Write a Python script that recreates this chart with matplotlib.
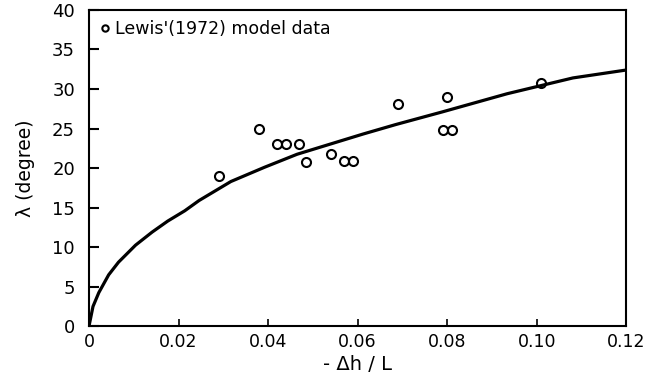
import matplotlib.pyplot as plt

# Datos del modelo de Lewis (1972)
dh_L = [0.029, 0.038, 0.042, 0.044, 0.047, 0.0485, 0.054, 0.057, 0.059,
        0.069, 0.080, 0.079, 0.081, 0.101]
lamda = [19.0, 25.0, 23.0, 23.0, 23.0, 20.8, 21.8, 20.9, 20.9,
         28.1, 29.0, 24.8, 24.8, 30.7]

# Curva ajustada (leida punto a punto)
curva_x = [0.0, 0.0009, 0.0022, 0.0044, 0.0066, 0.0104, 0.0141, 0.0176,
           0.0214, 0.0246, 0.0317, 0.0392, 0.0465, 0.0537, 0.0612, 0.0685,
           0.0789, 0.0934, 0.1081, 0.120]
curva_y = [0.0, 2.5, 4.25, 6.5, 8.1, 10.25, 11.9, 13.3,
           14.6, 15.9, 18.3, 20.1, 21.75, 23.0, 24.3, 25.5,
           27.1, 29.4, 31.4, 32.4]

xticks = [0, 0.02, 0.04, 0.06, 0.08, 0.10, 0.12]
xlabels = ['0', '0.02', '0.04', '0.06', '0.08', '0.10', '0.12']
yticks = [0, 5, 10, 15, 20, 25, 30, 35, 40]

fig = plt.figure(figsize=(6.48, 3.82), dpi=100)
ax = fig.add_axes([0.1373, 0.146, 0.829, 0.828])

ax.plot(curva_x, curva_y, color='black', lw=2.3, solid_capstyle='round',
        solid_joinstyle='round')
ax.plot(dh_L, lamda, 'o', mfc='none', mec='black', ms=6.5, mew=1.5,
        label="Lewis'(1972) model data")

ax.set_xlim(0, 0.12)
ax.set_ylim(0, 40)
ax.set_xticks(xticks)
ax.set_xticklabels(xlabels)
ax.set_yticks(yticks)

for s in ax.spines.values():
    s.set_linewidth(1.5)

ax.tick_params(axis='y', direction='in', length=7, width=1.5, pad=10,
               labelsize=13)
ax.tick_params(axis='x', direction='in', length=5, width=1.2, pad=5,
               labelsize=12.5)

ax.set_xlabel('- Δh / L', fontsize=14, labelpad=3)
ax.set_ylabel('λ (degree)', fontsize=13.5, labelpad=12)

ax.legend(loc='upper left', frameon=False, fontsize=12.5, handlelength=0.6,
          handletextpad=0.3, markerscale=0.7, borderaxespad=0.2)

fig.savefig('out.png', dpi=100)
